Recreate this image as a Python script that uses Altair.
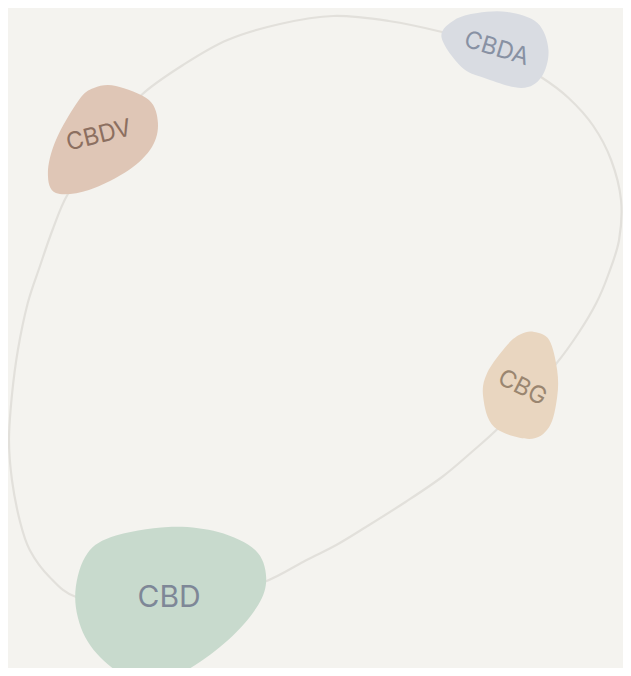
import altair as alt
import pandas as pd

# ---- data ----
# closed loop through the four nodes (reference pixel coordinates)
loop_x = [77, 50, 30, 20, 12, 9, 12, 18, 28, 40, 53, 68, 93, 118, 143, 185, 230, 283, 337, 393, 447, 480, 514,
          547, 575, 600, 618, 628, 626, 615, 603, 585, 563, 534, 505, 477, 447, 410, 370, 340, 310, 267, 220, 172, 125]
loop_y = [597, 577, 550, 521, 480, 440, 395, 350, 303, 267, 230, 195, 162, 128, 95, 65, 40, 24, 16, 21, 32, 42, 59,
          77, 98, 126, 160, 200, 240, 275, 303, 333, 363, 395, 427, 452, 477, 502, 527, 545, 560, 582, 592, 598, 600]

names = ["CBDA", "CBDV", "CBG", "CBD"]
node_x = [500, 104, 527, 172]
node_y = [50, 140, 385, 600]
label_x = [502, 100, 528, 171]
label_y = [49, 136, 388, 598]
label_angle = [17, 346, 27, 0]
label_size = [24, 24, 24, 30]
fills = ["#d9dce2", "#dfc6b6", "#e9d6c0", "#c8dacd"]
text_colors = ["#8891a3", "#8c6f60", "#9a8670", "#7e8797"]

# blob outlines: offsets from node centre (px)
outlines = [
    [(13, -38), (43, -27), (54, 0), (47, 27), (27, 38), (-10, 28), (-33, 17), (-53, -13), (-40, -30), (-17, -37)],
    [(13, -54), (46, -40), (55, -17), (49, 7), (26, 30), (-14, 50), (-47, 53), (-55, 33), (-47, 0), (-24, -40), (-9, -52)],
    [(13, -53), (28, -45), (36, -15), (36, 12), (28, 42), (8, 54), (-27, 42), (-38, 12), (-34, -12), (-14, -40), (0, -51)],
    [(-2, -73), (48, -68), (85, -50), (96, -23), (88, 5), (58, 40), (13, 72), (-27, 82), (-59, 67), (-85, 37), (-95, -3), (-85, -43), (-59, -63)],
]

R = 60


def blob_path(pts, r=R):
    p = [(x / r, y / r) for x, y in pts]
    n = len(p)
    s = f"M{p[0][0]:.3f},{p[0][1]:.3f}"
    for i in range(n):
        p0, p1, p2, p3 = p[i - 1], p[i], p[(i + 1) % n], p[(i + 2) % n]
        c1 = (p1[0] + (p2[0] - p0[0]) / 6, p1[1] + (p2[1] - p0[1]) / 6)
        c2 = (p2[0] - (p3[0] - p1[0]) / 6, p2[1] - (p3[1] - p1[1]) / 6)
        s += f"C{c1[0]:.3f},{c1[1]:.3f} {c2[0]:.3f},{c2[1]:.3f} {p2[0]:.3f},{p2[1]:.3f}"
    return s + "Z"


W, H = 615, 660
X0, Y0 = 8, 8

loop_df = pd.DataFrame({"x": loop_x, "y": loop_y, "i": list(range(len(loop_x)))})
nodes_df = pd.DataFrame({
    "name": names, "x": node_x, "y": node_y,
    "lx": label_x, "ly": label_y, "angle": label_angle, "fs": label_size,
    "fill": fills, "tc": text_colors,
    "path": [blob_path(o) for o in outlines],
})

xs = alt.Scale(domain=[X0, 630], nice=False, zero=False)
ys = alt.Scale(domain=[Y0, Y0 + H], nice=False, zero=False, reverse=True)

loop = alt.Chart(loop_df).mark_line(
    interpolate="cardinal-closed", color="#e2e0db", strokeWidth=2.2
).encode(
    x=alt.X("x:Q", scale=xs, axis=None),
    y=alt.Y("y:Q", scale=ys, axis=None),
    order="i:Q",
)

blobs = alt.Chart(nodes_df).mark_point(
    filled=True, opacity=1, size=(2 * R) ** 2, strokeWidth=0
).encode(
    x=alt.X("x:Q", scale=xs, axis=None),
    y=alt.Y("y:Q", scale=ys, axis=None),
    shape=alt.Shape("path:N", scale=None, legend=None),
    fill=alt.Fill("fill:N", scale=None, legend=None),
)

labels = alt.Chart(nodes_df).mark_text(
    font="Inter", fontWeight=400, align="center", baseline="middle"
).encode(
    x=alt.X("lx:Q", scale=xs, axis=None),
    y=alt.Y("ly:Q", scale=ys, axis=None),
    text="name:N",
    angle=alt.Angle("angle:Q", scale=None),
    size=alt.Size("fs:Q", scale=None, legend=None),
    color=alt.Color("tc:N", scale=None, legend=None),
)

chart = alt.layer(loop, blobs, labels).properties(
    width=W, height=H, background="#f4f3ef", padding=0,
    autosize=alt.AutoSizeParams(type="none"),
).configure_view(stroke=None)

chart.save("out.html", embed_options={"renderer": "svg", "actions": False})
